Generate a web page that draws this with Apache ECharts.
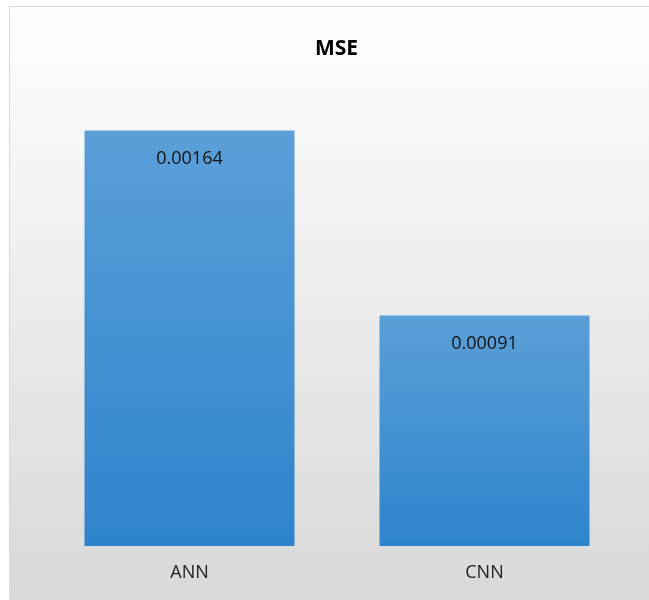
<!DOCTYPE html>
<html><head><meta charset="utf-8">
<script src="https://cdn.jsdelivr.net/npm/echarts@6/dist/echarts.min.js"></script>
<style>html,body{margin:0;padding:0;background:#fff}#c{width:649px;height:600px}</style>
</head><body><div id="c"></div>
<script>
const categories = ['ANN', 'CNN'];
const mseValues = [0.00164, 0.00091];
const labelTexts = ['0.00164', '0.00091'];
const chartTitle = 'MSE';

const chart = echarts.init(document.getElementById('c'));
chart.setOption({
  animation: false,
  backgroundColor: '#ffffff',
  graphic: [{
    type: 'rect', z: -10, silent: true,
    shape: { x: 9.5, y: 6.5, width: 650, height: 600 },
    style: {
      fill: new echarts.graphic.LinearGradient(0, 0, 0, 1, [
        { offset: 0, color: '#ffffff' },
        { offset: 1, color: '#d8d8d8' }
      ]),
      stroke: '#d9d9d9', lineWidth: 1
    }
  }],
  title: {
    text: chartTitle, left: 310, top: 34,
    textStyle: { fontFamily: 'Open Sans', fontWeight: 'bold', fontSize: 21, color: '#000' }
  },
  grid: { left: 42, right: 17, top: 90, bottom: 54 },
  xAxis: {
    type: 'category', data: categories,
    axisLine: { show: false }, axisTick: { show: false },
    axisLabel: { margin: 18, fontFamily: 'Open Sans', fontSize: 18, color: '#222' }
  },
  yAxis: {
    type: 'value', min: 0, max: 0.0018,
    show: false, splitLine: { show: false }
  },
  series: [{
    type: 'bar', data: mseValues, barWidth: 210,
    itemStyle: {
      color: new echarts.graphic.LinearGradient(0, 0, 0, 1, [
        { offset: 0, color: '#5b9fd8' },
        { offset: 1, color: '#2e84cc' }
      ])
    },
    label: {
      show: true, position: 'insideTop', distance: 19,
      formatter: p => labelTexts[p.dataIndex],
      fontFamily: 'Open Sans', fontSize: 18, color: '#111'
    }
  }]
});
</script></body></html>
